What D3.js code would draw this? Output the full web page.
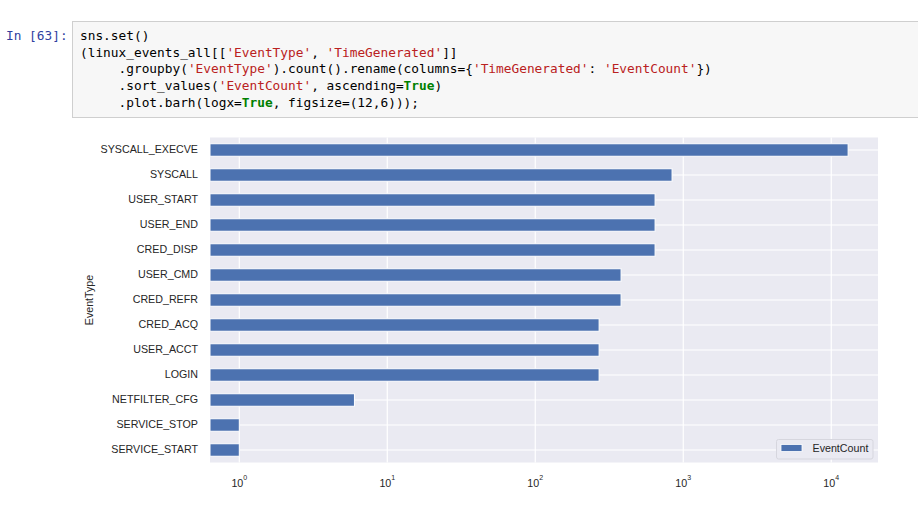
<!DOCTYPE html>
<html>
<head>
<meta charset="utf-8">
<script src="https://cdn.jsdelivr.net/npm/d3@7"></script>
<style>
    body { margin: 0; background: #ffffff; }
    svg { display: block; }
    .tick-label { font-family: "Liberation Sans", Arial, sans-serif; font-size: 10.7px; fill: #262626; }
    .code { font-family: "DejaVu Sans Mono", "Liberation Mono", monospace; font-size: 12.8px; white-space: pre; }
</style>
</head>
<body>
<div id="chart"></div>
<script>

// ---- data (ascending, as pandas sorts it) ----
var eventTypes = ["SERVICE_START", "SERVICE_STOP", "NETFILTER_CFG", "LOGIN", "USER_ACCT",
    "CRED_ACQ", "CRED_REFR", "USER_CMD", "CRED_DISP", "USER_END", "USER_START", "SYSCALL", "SYSCALL_EXECVE"];
var eventCounts = [1, 1, 6, 270, 270, 270, 380, 380, 645, 645, 645, 840, 13000];
var xTickExponents = [0, 1, 2, 3, 4];
var seriesName = "EventCount";
var yAxisLabel = "EventType";

// notebook cell text, split into coloured tokens
var codeLines = [
    [["sns.set()", "n"]],
    [["(linux_events_all[[", "n"], ["'EventType'", "s"], [", ", "n"], ["'TimeGenerated'", "s"], ["]]", "n"]],
    [["     .groupby(", "n"], ["'EventType'", "s"], [").count().rename(columns={", "n"], ["'TimeGenerated'", "s"], [": ", "n"], ["'EventCount'", "s"], ["})", "n"]],
    [["     .sort_values(", "n"], ["'EventCount'", "s"], [", ascending=", "n"], ["True", "k"], [")", "n"]],
    [["     .plot.barh(logx=", "n"], ["True", "k"], [", figsize=(12,6)));", "n"]]
];
var promptText = "In [63]:";

var W = 918, H = 508;

var svg = d3.select("#chart").append("svg")
    .attr("width", W)
    .attr("height", H);

//-----code cell------
svg.append("rect")
    .attr("x", 72.5)
    .attr("y", 21.5)
    .attr("width", W)
    .attr("height", 96)
    .attr("fill", "#f7f7f7")
    .attr("stroke", "#cfcfcf");

svg.append("text")
    .attr("class", "code")
    .attr("x", 6)
    .attr("y", 40)
    .attr("fill", "#303F9F")
    .text(promptText);

var tokenColor = {n: "#000000", s: "#BA2121", k: "#008000"};

codeLines.forEach(function(line, i) {
    var t = svg.append("text")
        .attr("class", "code")
        .attr("x", 80)
        .attr("y", 40 + i * 16.7)
        .attr("xml:space", "preserve");
    line.forEach(function(tok) {
        t.append("tspan")
            .attr("fill", tokenColor[tok[1]])
            .attr("font-weight", tok[1] == "k" ? "bold" : null)
            .text(tok[0]);
    });
});

//-----plot area------
var margin = {top: 137.5, left: 210, right: 40, bottom: 45.5};
var width = W - margin.left - margin.right;
var height = H - margin.top - margin.bottom;

var g = svg.append("g")
    .attr("transform", "translate(" + margin.left + "," + margin.top + ")");

g.append("rect")
    .attr("width", width)
    .attr("height", height)
    .attr("fill", "#EAEAF2");

// axis limits as matplotlib picked them
var x = d3.scaleLog()
    .domain([0.634, 20700])
    .range([0, width]);

var y = d3.scaleBand()
    .domain(eventTypes.slice().reverse())
    .range([0, height])
    .paddingInner(0.5)
    .paddingOuter(0.25);

// grid lines
g.selectAll(".vgrid")
    .data(xTickExponents)
    .enter()
    .append("line")
    .attr("x1", function(d) { return x(Math.pow(10, d)); })
    .attr("x2", function(d) { return x(Math.pow(10, d)); })
    .attr("y1", 0)
    .attr("y2", height)
    .attr("stroke", "#ffffff")
    .attr("stroke-width", 1.2);

g.selectAll(".hgrid")
    .data(eventTypes)
    .enter()
    .append("line")
    .attr("x1", 0)
    .attr("x2", width)
    .attr("y1", function(d) { return y(d) + y.bandwidth() / 2; })
    .attr("y2", function(d) { return y(d) + y.bandwidth() / 2; })
    .attr("stroke", "#ffffff")
    .attr("stroke-width", 1.2);

// bars
g.selectAll(".bar")
    .data(eventTypes)
    .enter()
    .append("rect")
    .attr("x", 0)
    .attr("y", function(d) { return y(d); })
    .attr("width", function(d, i) { return x(eventCounts[i]); })
    .attr("height", y.bandwidth())
    .attr("fill", "#4C72B0")
    .attr("stroke", "#ffffff")
    .attr("stroke-width", 1);

// y axis (labels only, seaborn darkgrid has no ticks or spines)
var yAxis = d3.axisLeft(y).tickSize(0).tickPadding(12);
var yg = g.append("g").call(yAxis);
yg.select(".domain").remove();
yg.selectAll("text")
    .attr("class", "tick-label")
    .attr("fill", null);

// x axis with 10^n labels
var xLabels = g.selectAll(".xlab")
    .data(xTickExponents)
    .enter()
    .append("text")
    .attr("class", "tick-label")
    .attr("x", function(d) { return x(Math.pow(10, d)); })
    .attr("y", height + 24.5)
    .attr("text-anchor", "middle");
xLabels.append("tspan").text("10");
xLabels.append("tspan")
    .attr("dy", -7)
    .attr("font-size", "7px")
    .text(function(d) { return d; });

// y label
svg.append("text")
    .attr("class", "tick-label")
    .attr("text-anchor", "middle")
    .attr("transform", "translate(93," + (margin.top + height / 2) + ") rotate(-90)")
    .text(yAxisLabel);

// legend
var lg = g.append("g")
    .attr("transform", "translate(" + (width - 101.5) + "," + (height - 23) + ")");
lg.append("rect")
    .attr("width", 96.5)
    .attr("height", 19.5)
    .attr("rx", 2)
    .attr("fill", "#EAEAF2")
    .attr("stroke", "#d6d6de");
lg.append("rect")
    .attr("x", 4.5)
    .attr("y", 5)
    .attr("width", 21)
    .attr("height", 7)
    .attr("fill", "#4C72B0")
    .attr("stroke", "#ffffff")
    .attr("stroke-width", 0.8);
lg.append("text")
    .attr("class", "tick-label")
    .attr("x", 36)
    .attr("y", 12.5)
    .text(seriesName);

</script>
</body>
</html>
